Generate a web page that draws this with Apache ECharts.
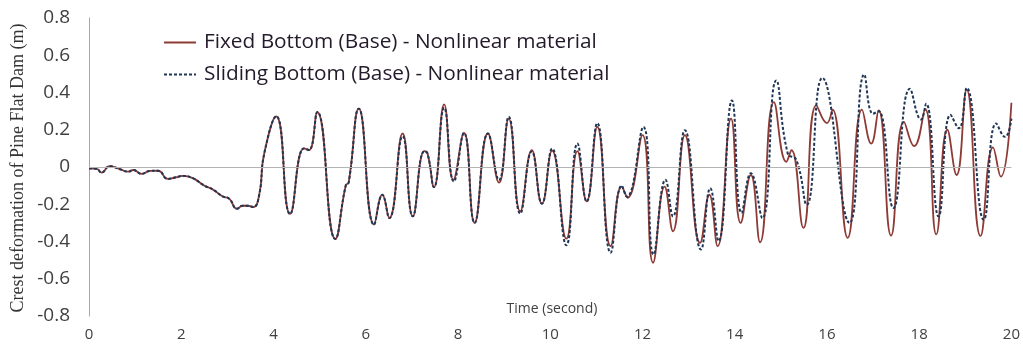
<!DOCTYPE html>
<html><head><meta charset="utf-8">
<script src="https://cdn.jsdelivr.net/npm/echarts@6/dist/echarts.min.js"></script>
<style>html,body{margin:0;padding:0;background:#fff}#c{width:1023px;height:347px}</style>
</head><body><div id="c"></div>
<script>
const xTicks = [0,2,4,6,8,10,12,14,16,18,20];
const yTicks = [-0.8,-0.6,-0.4,-0.2,0,0.2,0.4,0.6,0.8];
const seriesNames = ['Fixed Bottom (Base) - Nonlinear material','Sliding Bottom (Base) - Nonlinear material'];
// shared part of both records (time s, deformation m)
const commonPart = [[0,-0.007],[0.17,-0.01],[0.27,-0.03],[0.45,0.005],[0.67,-0.012],[0.85,-0.025],[0.96,-0.016],[1.14,-0.037],[1.32,-0.021],[1.5,-0.02],[1.71,-0.064],[1.89,-0.055],[2.03,-0.048],[2.25,-0.06],[2.5,-0.1],[2.68,-0.12],[2.9,-0.158],[3.04,-0.17],[3.21,-0.224],[3.33,-0.208],[3.44,-0.208],[3.56,-0.215],[3.69,-0.15],[3.8,0.073],[4.06,0.272],[4.36,-0.252],[4.66,0.1],[4.77,0.091],[4.95,0.295],[5.34,-0.386],[5.57,-0.096],[5.63,-0.084],[5.85,0.313],[6.18,-0.309],[6.36,-0.149],[6.51,-0.274]];
const fixedPart = [[6.8,0.18],[7.02,-0.265],[7.27,0.085],[7.34,0.073],[7.48,-0.108],[7.7,0.336],[7.9,-0.069],[8.13,0.183],[8.36,-0.3],[8.65,0.18],[8.89,-0.084],[9.1,0.26],[9.35,-0.238],[9.6,0.091],[9.82,-0.197],[10.04,0.088],[10.35,-0.385],[10.59,0.085],[10.79,-0.185],[11.02,0.215],[11.31,-0.425],[11.55,-0.105],[11.68,-0.165],[12.0,0.171],[12.23,-0.514],[12.48,-0.105],[12.66,-0.345],[12.92,0.171],[13.25,-0.407],[13.45,-0.149],[13.63,-0.425],[13.92,0.26],[14.13,-0.3],[14.35,-0.043],[14.55,-0.404],[14.85,0.348],[15.12,0.028],[15.23,0.091],[15.49,-0.327],[15.77,0.331],[16.0,0.236],[16.12,0.308],[16.45,-0.38],[16.76,0.308],[16.96,0.126],[17.12,0.304],[17.39,-0.368],[17.67,0.242],[17.89,0.112],[18.13,0.31],[18.37,-0.362],[18.61,0.2],[18.81,-0.043],[19.03,0.414],[19.33,-0.37],[19.6,0.105],[19.77,-0.052],[20.0,0.345]];
const slidingPart = [[6.8,0.165],[7.02,-0.265],[7.27,0.085],[7.34,0.073],[7.48,-0.108],[7.7,0.318],[7.91,-0.078],[8.13,0.183],[8.36,-0.3],[8.65,0.18],[8.89,-0.07],[9.1,0.27],[9.35,-0.25],[9.6,0.083],[9.82,-0.197],[10.04,0.099],[10.35,-0.42],[10.59,0.126],[10.79,-0.185],[11.02,0.235],[11.31,-0.46],[11.55,-0.1],[11.66,-0.16],[12.02,0.215],[12.24,-0.47],[12.5,-0.069],[12.66,-0.265],[12.92,0.197],[13.27,-0.443],[13.47,-0.114],[13.65,-0.398],[13.94,0.357],[14.15,-0.247],[14.35,-0.034],[14.6,-0.274],[14.9,0.464],[15.15,0.073],[15.34,0.037],[15.56,-0.203],[15.9,0.478],[16.49,-0.3],[16.81,0.496],[17.0,0.286],[17.12,0.3],[17.44,-0.22],[17.8,0.42],[18.04,0.255],[18.15,0.34],[18.42,-0.265],[18.68,0.28],[18.86,0.208],[19.03,0.425],[19.4,-0.283],[19.67,0.234],[19.86,0.162],[20.0,0.26]];

const fixedData = commonPart.concat(fixedPart);
const slidingData = commonPart.concat(slidingPart);

const chart = echarts.init(document.getElementById('c'), null, {renderer:'canvas'});
const lblFont = "'Open Sans', 'Liberation Sans', sans-serif";
const legendBase = {orient:'vertical', itemWidth:32, itemHeight:14,
  itemStyle:{opacity:0, color:'rgba(0,0,0,0)', borderWidth:0},
  textStyle:{fontFamily:lblFont, fontSize:20.8, color:'#231a2b', padding:[0,0,0,3]}};
chart.setOption({
  animation:false,
  backgroundColor:'#fff',
  grid:{left:89, right:7, top:18, bottom:31, containLabel:false},
  legend:[
    Object.assign({data:[seriesNames[0]], left:158, top:27}, legendBase),
    Object.assign({data:[seriesNames[1]], left:158, top:59}, legendBase)
  ],
  xAxis:{type:'value', min:xTicks[0], max:xTicks[xTicks.length-1], interval:2,
    axisLine:{show:false, onZero:false}, axisTick:{show:false}, splitLine:{show:false},
    axisLabel:{margin:11, fontFamily:lblFont, fontSize:15, color:'#404040'}},
  yAxis:{type:'value', min:yTicks[0], max:yTicks[yTicks.length-1], interval:0.2,
    axisLine:{show:true, lineStyle:{color:'#a6a6a6', width:1}}, axisTick:{show:false}, splitLine:{show:false},
    axisLabel:{margin:19, fontFamily:lblFont, fontSize:19, color:'#404040',
      formatter:v=>Math.abs(v)<1e-9?'0':v.toFixed(1)}},
  graphic:[
    {type:'text', x:18, y:168, rotation:Math.PI/2,
     style:{text:'Crest deformation of Pine Flat Dam (m)', font:"18px 'Liberation Serif', serif", fill:'#333',
       align:'center', verticalAlign:'middle', textAlign:'center', textVerticalAlign:'middle'}},
    {type:'text', x:552, y:309,
     style:{text:'Time (second)', font:"14px 'Open Sans', sans-serif", fill:'#404040',
       align:'center', verticalAlign:'middle', textAlign:'center', textVerticalAlign:'middle'}}
  ],
  series:[
    {name:seriesNames[0], type:'line', data:fixedData, smooth:0.5, symbol:'none',
     lineStyle:{color:'#8e3a35', width:1.8}, itemStyle:{color:'#8e3a35'},
     markLine:{silent:true, symbol:'none', label:{show:false}, lineStyle:{color:'#b4b4b4', width:1.2, type:'solid'}, data:[{yAxis:0}]}},
    {name:seriesNames[1], type:'line', data:slidingData, smooth:0.5, symbol:'none',
     lineStyle:{color:'#1f3656', width:2, type:[3,2]}, itemStyle:{color:'#1f3656'}}
  ]
});
</script></body></html>
